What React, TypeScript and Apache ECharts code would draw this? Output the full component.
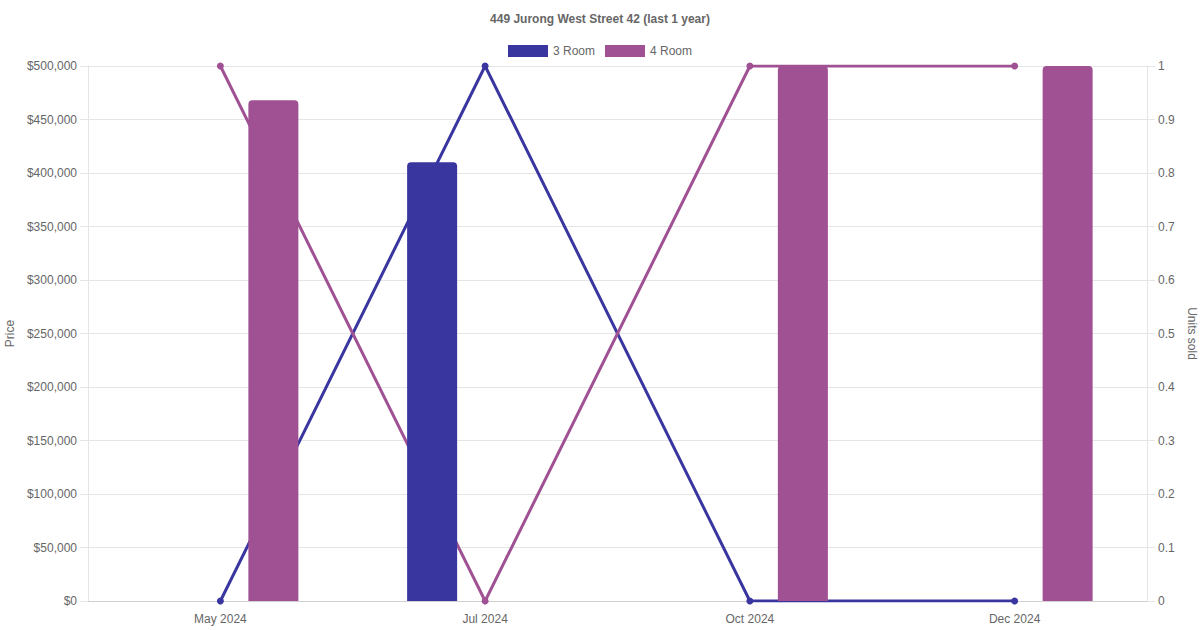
import React, { useEffect, useRef } from "react";
import * as echarts from "echarts";

const categories = ["May 2024", "Jul 2024", "Oct 2024", "Dec 2024"];
const price3Room = [null, 410000, null, null];
const price4Room = [468000, null, 500000, 500000];
const units3Room = [0, 1, 0, 0];
const units4Room = [1, 0, 1, 1];

const C3 = "#3a36a0";
const C4 = "#9f5193";
const FONT = "Liberation Sans, Arial, Helvetica, sans-serif";

export default function App() {
  const ref = useRef<HTMLDivElement>(null);
  useEffect(() => {
    const chart = echarts.init(ref.current!, null, { renderer: "svg" });
    chart.setOption({
      animation: false,
      textStyle: { fontFamily: FONT },
      title: {
        text: "449 Jurong West Street 42 (last 1 year)",
        left: "center",
        top: 8,
        textStyle: { fontSize: 12, fontWeight: "bold", color: "#666", fontFamily: FONT },
      },
      legend: {
        data: ["3 Room", "4 Room"],
        top: 40,
        left: "center",
        icon: "rect",
        itemWidth: 40,
        itemHeight: 12,
        itemGap: 10,
        textStyle: { fontSize: 12, color: "#666", fontFamily: FONT },
      },
      grid: { left: 88, right: 53, top: 66, bottom: 29, containLabel: false, outerBoundsMode: "none" },
      xAxis: {
        type: "category",
        data: categories,
        boundaryGap: true,
        axisLine: { show: true, lineStyle: { color: "#d0d0d0" } },
        axisTick: { show: false },
        axisLabel: { color: "#666", fontSize: 12, margin: 12, fontFamily: FONT },
        splitLine: { show: false },
      },
      yAxis: [
        {
          type: "value",
          min: 0,
          max: 500000,
          interval: 50000,
          name: "Price",
          nameLocation: "middle",
          nameGap: 72,
          nameRotate: 90,
          nameTextStyle: { color: "#666", fontSize: 12, fontFamily: FONT },
          axisLine: { show: true, lineStyle: { color: "#e5e5e5" } },
          axisTick: { show: true, length: 8, lineStyle: { color: "#e5e5e5" } },
          axisLabel: {
            color: "#666",
            fontSize: 12,
            margin: 11,
            fontFamily: FONT,
            formatter: (v: number) => "$" + v.toLocaleString("en-US"),
          },
          splitLine: { show: true, lineStyle: { color: "#e5e5e5" } },
        },
        {
          type: "value",
          min: 0,
          max: 1,
          interval: 0.1,
          name: "Units sold",
          nameLocation: "middle",
          nameGap: 36,
          nameRotate: -90,
          nameTextStyle: { color: "#666", fontSize: 12, fontFamily: FONT },
          axisLine: { show: true, lineStyle: { color: "#e5e5e5" } },
          axisTick: { show: true, length: 8, lineStyle: { color: "#e5e5e5" } },
          axisLabel: {
            color: "#666",
            fontSize: 12,
            margin: 11,
            fontFamily: FONT,
            formatter: (v: number) => String(Math.round(v * 10) / 10),
          },
          splitLine: { show: false },
        },
      ],
      series: [
        {
          name: "3 Room",
          type: "bar",
          yAxisIndex: 0,
          data: price3Room,
          barWidth: 50,
          barGap: "112%",
          z: 3,
          itemStyle: { color: C3, borderRadius: [4, 4, 0, 0] },
        },
        {
          name: "4 Room",
          type: "bar",
          yAxisIndex: 0,
          data: price4Room,
          barWidth: 50,
          barGap: "112%",
          z: 3,
          itemStyle: { color: C4, borderRadius: [4, 4, 0, 0] },
        },
        {
          name: "3 Room",
          type: "line",
          yAxisIndex: 1,
          data: units3Room,
          symbol: "circle",
          symbolSize: 7,
          z: 2,
          lineStyle: { color: C3, width: 3 },
          itemStyle: { color: C3 },
        },
        {
          name: "4 Room",
          type: "line",
          yAxisIndex: 1,
          data: units4Room,
          symbol: "circle",
          symbolSize: 7,
          z: 2,
          lineStyle: { color: C4, width: 3 },
          itemStyle: { color: C4 },
        },
      ],
    });
    return () => chart.dispose();
  }, []);
  return <div ref={ref} style={{ width: 1200, height: 630, position: "absolute", left: 0, top: 0 }} />;
}
